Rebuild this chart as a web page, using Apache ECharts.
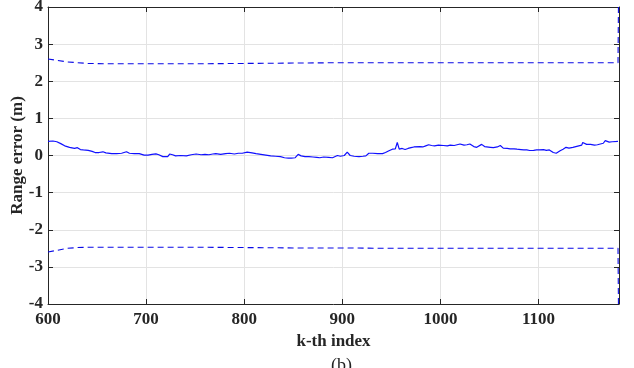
<!DOCTYPE html>
<html>
<head>
<meta charset="utf-8">
<script src="https://cdn.jsdelivr.net/npm/echarts@6/dist/echarts.min.js"></script>
<style>
html,body{margin:0;padding:0;background:#fff;}
#chart{width:634px;height:368px;}
</style>
</head>
<body>
<div id="chart"></div>
<script>
// k-th index and range error (solid line)
const kIndex = [600,605,609,613,617,622,627,630,633,636,638,641,645,648,652,656,659,665,670,675,680,683,688,693,698,
  702,706,710,713,717,722,724,727,730,735,741,746,751,756,760,764,768,771,776,781,785,790,794,798,
  803,808,812,817,822,827,832,837,841,845,848,852,855,858,862,866,870,874,877,881,886,890,895,898,
  902,905,908,912,917,921,924,927,931,936,941,944,947,951,954,956,958,961,964,967,970,973,975,979,982,985,988,991,994,998,
  999,1003,1007,1010,1014,1017,1020,1024,1027,1030,1034,1037,1039,1042,1045,1047,1051,1054,1058,1061,1064,1068,1071,1075,1078,1082,1085,1088,1091,1095,1098,
  1101,1105,1108,1111,1115,1118,1122,1125,1128,1131,1135,1138,1140,1144,1145,1149,1153,1157,1160,1162,1166,1168,1172,1175,1177,1181];
const rangeError = [0.38,0.39,0.37,0.32,0.26,0.22,0.19,0.21,0.16,0.15,0.19,0.14,0.11,0.08,0.08,0.10,0.07,0.05,0.05,0.06,0.10,0.06,0.05,0.05,0.01,
  0.01,0.03,0.045,0.02,-0.03,-0.03,0.04,0.02,-0.01,0.0,-0.01,0.02,0.04,0.02,0.03,0.02,0.04,0.05,0.03,0.05,0.06,0.04,0.06,0.06,
  0.09,0.07,0.05,0.03,0.01,-0.01,-0.02,-0.03,-0.06,-0.07,-0.07,-0.06,0.03,-0.01,-0.03,-0.03,-0.04,-0.05,-0.06,-0.04,-0.05,-0.06,0.0,-0.02,
  0.0,0.09,0.0,-0.02,-0.03,-0.02,-0.01,0.06,0.06,0.05,0.05,0.08,0.12,0.17,0.18,0.35,0.17,0.19,0.16,0.19,0.21,0.23,0.26,0.24,0.23,0.26,0.29,0.27,0.26,0.28,
  0.33,0.27,0.26,0.28,0.27,0.29,0.31,0.28,0.29,0.31,0.24,0.22,0.23,0.30,0.24,0.22,0.22,0.21,0.23,0.27,0.20,0.19,0.18,0.18,0.17,0.16,0.15,0.15,0.135,0.14,0.15,
  0.15,0.16,0.14,0.15,0.08,0.06,0.13,0.17,0.22,0.20,0.22,0.24,0.26,0.28,0.35,0.30,0.30,0.28,0.29,0.30,0.33,0.40,0.36,0.37,0.37,0.38];

// bounds (dashed lines)
const boundIndex = [600,610,620,630,640,660,700,750,800,850,900,950,1000,1050,1100,1150,1181,1182];
const upperBound = [2.6,2.56,2.52,2.5,2.48,2.47,2.47,2.47,2.48,2.49,2.5,2.5,2.5,2.5,2.5,2.5,2.5,6];
const lowerBound = [-2.6,-2.55,-2.5,-2.48,-2.47,-2.47,-2.47,-2.47,-2.48,-2.49,-2.49,-2.5,-2.5,-2.5,-2.5,-2.5,-2.5,-6];

const xTicks = [600,700,800,900,1000,1100];
const yTicks = [-4,-3,-2,-1,0,1,2,3,4];

const font = 'Liberation Serif';
const axisColor = '#262626';

const chart = echarts.init(document.getElementById('chart'), null, {renderer:'canvas'});
const zip = (xs, ys) => xs.map((x, i) => [x, ys[i]]);

chart.setOption({
  animation: false,
  backgroundColor: '#fff',
  grid: {left: 48, right: 15, top: 7, bottom: 64, containLabel: false, outerBoundsMode: 'none'},
  xAxis: [{
    type: 'value', min: 600, max: 1182, interval: 100, position: 'bottom',
    name: 'k-th index', nameLocation: 'middle', nameGap: 24,
    nameTextStyle: {fontFamily: font, fontWeight: 'bold', fontSize: 17, color: '#262626'},
    axisLine: {show: true, onZero: false, lineStyle: {color: axisColor, width: 1}},
    axisTick: {show: true, inside: true, length: 5, lineStyle: {color: axisColor}},
    axisLabel: {fontFamily: font, fontWeight: 'bold', fontSize: 17, color: '#262626', margin: 7,
      formatter: v => xTicks.includes(v) ? String(v) : ''},
    splitLine: {show: true, lineStyle: {color: '#e3e3e3', width: 1}}
  }, {
    type: 'value', min: 600, max: 1182, interval: 100, position: 'top',
    axisLine: {show: true, onZero: false, lineStyle: {color: axisColor, width: 1}},
    axisTick: {show: true, inside: true, length: 5, lineStyle: {color: axisColor}},
    axisLabel: {show: false}, splitLine: {show: false}
  }],
  yAxis: [{
    type: 'value', min: -4, max: 4, interval: 1, position: 'left',
    name: 'Range error (m)', nameLocation: 'middle', nameGap: 22, nameMoveOverlap: false,
    nameTextStyle: {fontFamily: font, fontWeight: 'bold', fontSize: 17, color: '#262626'},
    axisLine: {show: true, onZero: false, lineStyle: {color: axisColor, width: 1}},
    axisTick: {show: true, inside: true, length: 5, lineStyle: {color: axisColor}},
    axisLabel: {fontFamily: font, fontWeight: 'bold', fontSize: 17, color: '#262626', margin: 5,
      formatter: v => yTicks.includes(v) ? String(v) : ''},
    splitLine: {show: true, lineStyle: {color: '#e3e3e3', width: 1}}
  }, {
    type: 'value', min: -4, max: 4, interval: 1, position: 'right',
    axisLine: {show: true, onZero: false, lineStyle: {color: axisColor, width: 1}},
    axisTick: {show: true, inside: true, length: 5, lineStyle: {color: axisColor}},
    axisLabel: {show: false}, splitLine: {show: false}
  }],
  series: [{
    type: 'line', name: 'Range error', data: zip(kIndex, rangeError),
    showSymbol: false, symbol: 'none', clip: true,
    lineStyle: {color: '#1010ff', width: 1.2}
  }, {
    type: 'line', name: 'Upper bound', data: zip(boundIndex, upperBound),
    showSymbol: false, symbol: 'none', clip: true, smooth: false,
    lineStyle: {color: '#0a0ae6', width: 1.1, type: [6, 4]}
  }, {
    type: 'line', name: 'Lower bound', data: zip(boundIndex, lowerBound),
    showSymbol: false, symbol: 'none', clip: true, smooth: false,
    lineStyle: {color: '#0a0ae6', width: 1.1, type: [6, 4]}
  }],
  graphic: [{
    type: 'text', left: 331, top: 357,
    style: {text: '(b)', font: '18px "Liberation Serif"', fill: '#222'}
  }]
});
</script>
</body>
</html>
